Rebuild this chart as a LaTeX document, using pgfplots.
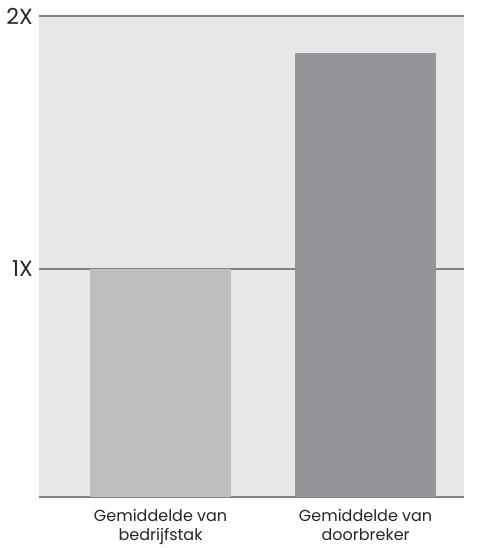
\documentclass[border=0pt]{standalone}
\usepackage{pgfplots}
\pgfplotsset{compat=1.18}
\usepackage{fontspec}
\setmainfont{Poppins}
\definecolor{bgc}{HTML}{E6E7E8}
\definecolor{barA}{HTML}{BCBEC0}
\definecolor{barB}{HTML}{939598}
\definecolor{linec}{HTML}{808285}
\begin{document}
\begin{tikzpicture}
\begin{axis}[
  name=ax,
  scale only axis,
  width=425pt, height=481pt,
  xmin=-0.593, xmax=1.480,
  ymin=0.099, ymax=2,
  axis x line=bottom, axis y line=left,
  x axis line style={-, draw=linec, line width=1.3pt},
  y axis line style={-, draw=none},
  axis background/.style={fill=bgc},
  ymajorgrids,
  grid style={draw=linec, line width=1.3pt},
  ytick={1,2}, yticklabels={1X,2X},
  xtick={0,1},
  xticklabels={Gemiddelde van\\bedrijfstak, Gemiddelde van\\doorbreker},
  major tick length=0pt,
  yticklabel style={font=\fontsize{22}{24}\selectfont, inner sep=0pt, xshift=-6pt, text=black!85},
  xticklabel style={font=\fontsize{16}{19}\selectfont, align=center, inner sep=0pt, yshift=-12pt, text=black!85},
  clip=false,
]
\addplot[ybar, bar width=0.688, fill=barA, draw=none] coordinates {(0,1)};
\addplot[ybar, bar width=0.688, fill=barB, draw=none] coordinates {(1,1.854)};
\end{axis}
\path (ax.south west) ++(-39pt,-51pt) coordinate (bl);
\path (ax.north east) ++(16pt,16pt) coordinate (tr);
\path (bl) rectangle (tr);
\end{tikzpicture}
\end{document}
